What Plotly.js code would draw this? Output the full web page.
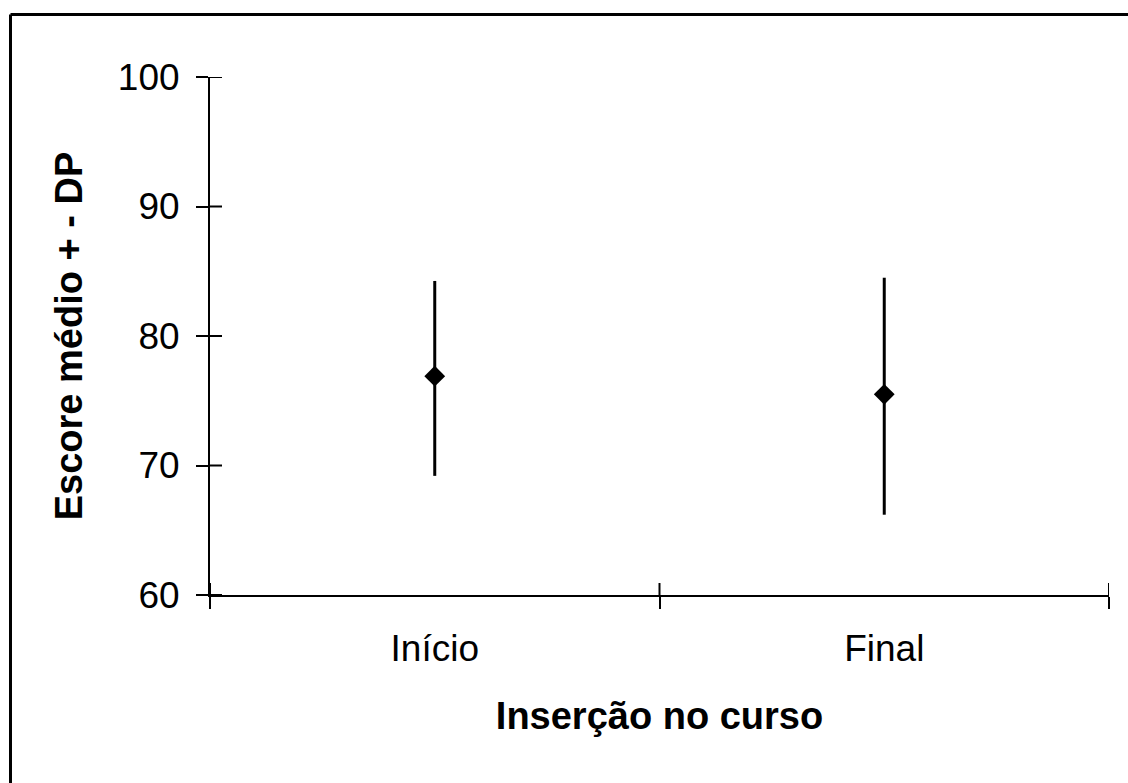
<!DOCTYPE html>
<html>
<head>
<meta charset="utf-8">
<script src="https://cdn.plot.ly/plotly-3.0.1.min.js"></script>
<style>
  html, body { margin: 0; padding: 0; background: #ffffff; overflow: hidden; }
  #chart { width: 1128px; height: 783px; }
</style>
</head>
<body>
<div id="chart"></div>
<script>
// Data
const categories = ['Início', 'Final'];
const meanScores = [76.9, 75.5];
const sdPlus = [7.35, 9.0];
const sdMinus = [7.7, 9.3];
const yTickValues = [60, 70, 80, 90, 100];

const FONT = 'Arial, "Liberation Sans", sans-serif';

const traces = [
  {
    type: 'scatter',
    mode: 'markers',
    x: categories,
    y: meanScores,
    marker: { symbol: 'diamond', size: 16, color: '#000000' },
    error_y: {
      type: 'data',
      symmetric: false,
      array: sdPlus,
      arrayminus: sdMinus,
      color: '#000000',
      thickness: 3,
      width: 0
    },
    showlegend: false,
    hoverinfo: 'x+y'
  }
];

const W = 1128, H = 783;
const mL = 210, mR = 19, mT = 76.5, mB = 187.5;
const pw = W - mL - mR, ph = H - mT - mB;
const TICK = 12;

// frame around the figure (left/top edges visible, right/bottom run off the canvas)
const frameX0 = (10.5 - mL) / pw;
const frameX1 = (W - mL) / pw;
const frameY0 = (mB - H) / ph;
const frameY1 = (H - mB - 14) / ph;

const shapes = [
  { type: 'line', xref: 'paper', yref: 'paper', x0: frameX0, x1: frameX1, y0: frameY1, y1: frameY1,
    line: { color: '#000000', width: 3 } },
  { type: 'line', xref: 'paper', yref: 'paper', x0: frameX0, x1: frameX0, y0: frameY0, y1: frameY1,
    line: { color: '#000000', width: 3 } }
];

// inner halves of the "cross" tick marks on the y axis
yTickValues.forEach(v => {
  shapes.push({ type: 'line', xref: 'paper', yref: 'y', x0: 0, x1: TICK / pw, y0: v, y1: v,
    line: { color: '#000000', width: 2 } });
});
// inner halves of the "cross" tick marks on the x axis (category boundaries)
for (let i = 0; i <= categories.length; i++) {
  const b = i - 0.5;
  shapes.push({ type: 'line', xref: 'x', yref: 'paper', x0: b, x1: b, y0: 0, y1: TICK / ph,
    line: { color: '#000000', width: 2 } });
}

const layout = {
  width: W,
  height: H,
  margin: { l: mL, r: mR, t: mT, b: mB, pad: 0 },
  paper_bgcolor: '#ffffff',
  plot_bgcolor: 'rgba(0,0,0,0)',
  font: { family: FONT, color: '#000000', size: 37 },
  showlegend: false,
  xaxis: {
    type: 'category',
    range: [-0.5, 1.5],
    tickson: 'boundaries',
    ticks: 'outside',
    ticklen: TICK,
    tickwidth: 2,
    tickcolor: '#000000',
    showline: true,
    linecolor: '#000000',
    linewidth: 2,
    showgrid: false,
    zeroline: false,
    tickfont: { family: FONT, size: 37, color: '#000000' },
    ticklabelstandoff: 20,
    title: { text: '<b>Inserção no curso</b>', font: { family: FONT, size: 38, color: '#000000' }, standoff: 34 },
    automargin: false,
    fixedrange: true
  },
  yaxis: {
    range: [60, 100],
    tickvals: yTickValues,
    ticks: 'outside',
    ticklen: TICK,
    tickwidth: 2,
    tickcolor: '#000000',
    showline: true,
    linecolor: '#000000',
    linewidth: 2,
    showgrid: false,
    zeroline: false,
    tickfont: { family: FONT, size: 37, color: '#000000' },
    ticklabelstandoff: 9,
    title: { text: '<b>Escore médio + - DP</b>', font: { family: FONT, size: 38, color: '#000000' }, standoff: 24 },
    automargin: false,
    fixedrange: true
  },
  shapes: shapes
};

Plotly.newPlot('chart', traces, layout, { displayModeBar: false, staticPlot: true });
</script>
</body>
</html>
